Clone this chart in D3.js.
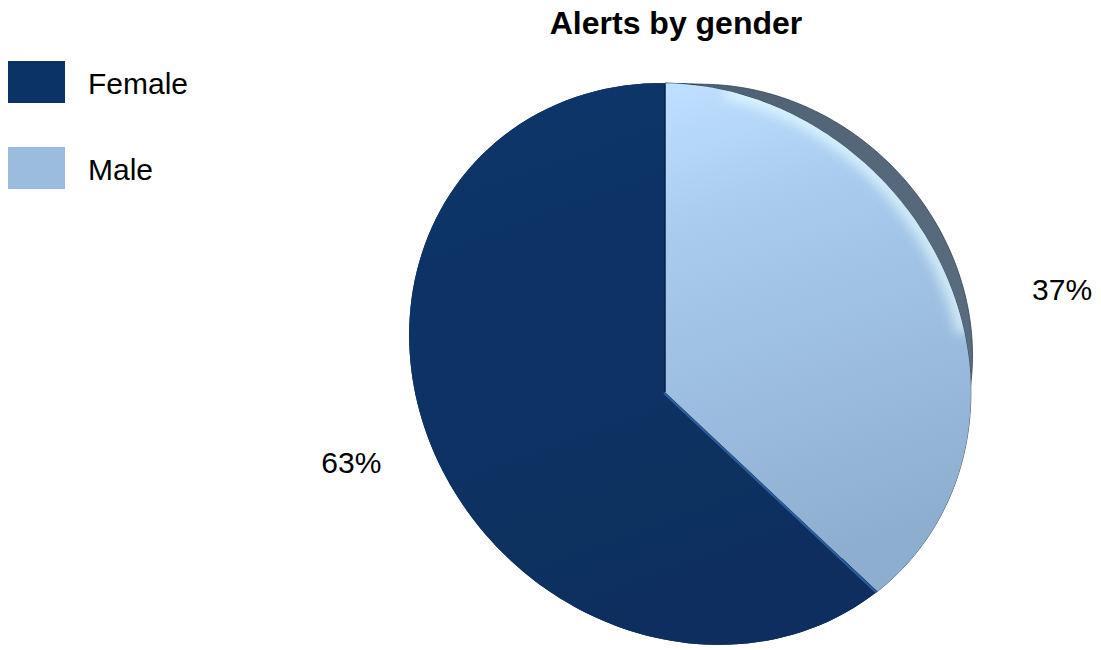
<!DOCTYPE html>
<html>
<head>
<meta charset="utf-8">
<script src="https://cdn.jsdelivr.net/npm/d3@7"></script>
<style>
  body { margin: 0; background: #fff; }
  svg { display: block; font-family: "Liberation Sans", Arial, sans-serif; }
</style>
</head>
<body>
<svg id="chart" width="1101" height="650"></svg>
<script>
const title = 'Alerts by gender'
const categories = ['Female', 'Male']
const values = [63, 37]
const percentLabels = ['63%', '37%']

const wallColors = ['#082650', '#56697b']
const legendColors = ['#0b3365', '#9bbcdc']

const svg = d3.select('#chart')
const defs = svg.append('defs')

// top face of the tilted pie: a rotated ellipse, apex off-centre for perspective
const face = { cx: 690, cy: 364, a: 295, b: 266, rot: Math.PI / 4 }
const apex = [665, 392]
// side wall = rim pulled toward a vanishing point
const vanish = [984, 92]
const depth = 0.125

// where a ray from the apex at `angle` (clockwise from 12 o'clock) hits the rim
const rim = (angle) => {
  const dx = Math.sin(angle), dy = -Math.cos(angle)
  const c = Math.cos(face.rot), s = Math.sin(face.rot)
  const px = apex[0] - face.cx, py = apex[1] - face.cy
  const ox = (px * c + py * s) / face.a, oy = (-px * s + py * c) / face.b
  const vx = (dx * c + dy * s) / face.a, vy = (-dx * s + dy * c) / face.b
  const A = vx * vx + vy * vy, B = 2 * (ox * vx + oy * vy), C = ox * ox + oy * oy - 1
  const t = (-B + Math.sqrt(B * B - 4 * A * C)) / (2 * A)
  return [apex[0] + dx * t, apex[1] + dy * t]
}
const sink = (p) => [p[0] + (vanish[0] - p[0]) * depth, p[1] + (vanish[1] - p[1]) * depth]

const arcPoints = (a0, a1) => d3.range(0, 121).map(i => rim(a0 + (a1 - a0) * i / 120))

const line = d3.line()

const pie = d3.pie().sort(null).startAngle(0).endAngle(2 * Math.PI)
// Male goes clockwise from 12 o'clock, Female fills the rest
const order = [1, 0]
const slices = pie(order.map(i => values[i])).map((d, k) => Object.assign({}, d, { idx: order[k] }))

// gradients
const gF = defs.append('linearGradient').attr('id', 'gFemale')
    .attr('x1', 0).attr('y1', 0).attr('x2', 0.3).attr('y2', 1)
gF.append('stop').attr('offset', '0%').attr('stop-color', '#16407a')
gF.append('stop').attr('offset', '15%').attr('stop-color', '#0c3468')
gF.append('stop').attr('offset', '100%').attr('stop-color', '#0a2f5f')

const gM = defs.append('linearGradient').attr('id', 'gMale')
    .attr('x1', 0).attr('y1', 0).attr('x2', 0.2).attr('y2', 1)
gM.append('stop').attr('offset', '0%').attr('stop-color', '#bfe0ff')
gM.append('stop').attr('offset', '30%').attr('stop-color', '#a8cbee')
gM.append('stop').attr('offset', '100%').attr('stop-color', '#8eaecf')

const gW = defs.append('linearGradient').attr('id', 'gWall')
    .attr('x1', 0).attr('y1', 0).attr('x2', 1).attr('y2', 1)
gW.append('stop').attr('offset', '0%').attr('stop-color', '#4e6174')
gW.append('stop').attr('offset', '100%').attr('stop-color', '#5d7083')

defs.append('filter').attr('id', 'soft')
    .attr('x', '-20%').attr('y', '-20%').attr('width', '140%').attr('height', '140%')
  .append('feGaussianBlur').attr('stdDeviation', 6)
defs.append('filter').attr('id', 'edge')
  .append('feGaussianBlur').attr('stdDeviation', 0.6)

const fills = ['url(#gFemale)', 'url(#gMale)']
const walls = [wallColors[0], 'url(#gWall)']

const g = svg.append('g')

// side walls
g.selectAll('path.wall').data(slices).join('path')
    .attr('class', 'wall')
    .attr('d', d => {
      const top = arcPoints(d.startAngle, d.endAngle)
      const bottom = top.map(sink).reverse()
      return line(top.concat(bottom)) + 'Z'
    })
    .attr('fill', d => walls[d.idx])
    .attr('stroke', d => d.idx === 1 ? '#34414f' : 'none')
    .attr('stroke-width', 0.8)
    .attr('filter', 'url(#edge)')

// top faces
const facePath = d => line([apex].concat(arcPoints(d.startAngle, d.endAngle))) + 'Z'
g.selectAll('path.face').data(slices).join('path')
    .attr('class', 'face')
    .attr('d', facePath)
    .attr('fill', d => fills[d.idx])
    .attr('filter', 'url(#edge)')

// rim highlight on the light slice
const male = slices.find(d => d.idx === 1)
defs.append('clipPath').attr('id', 'maleClip')
  .append('path').attr('d', facePath(male))
g.append('path')
    .attr('d', line(arcPoints(male.startAngle + 0.2, male.endAngle - 0.95)))
    .attr('fill', 'none')
    .attr('stroke', '#e8fdff')
    .attr('stroke-width', 16)
    .attr('stroke-opacity', 0.7)
    .attr('filter', 'url(#soft)')
    .attr('clip-path', 'url(#maleClip)')

// bevel lines along the split
g.append('path')
    .attr('d', line([apex, rim(male.endAngle)]))
    .attr('stroke', '#2d5f9f').attr('stroke-width', 2)
    .attr('transform', 'translate(-1,1)')
g.append('path')
    .attr('d', line([apex, rim(male.startAngle)]))
    .attr('stroke', '#07224a').attr('stroke-width', 1.5)

// percentage labels
const labelOffset = [[-99, -12], [118, 29]]
svg.selectAll('text.pct').data(slices).join('text')
    .attr('class', 'pct')
    .attr('x', d => rim((d.startAngle + d.endAngle) / 2)[0] + labelOffset[d.idx][0])
    .attr('y', d => rim((d.startAngle + d.endAngle) / 2)[1] + labelOffset[d.idx][1])
    .attr('text-anchor', 'middle')
    .attr('font-size', 30)
    .attr('fill', '#000')
    .text(d => percentLabels[d.idx])

// title
svg.append('text')
    .attr('x', 676).attr('y', 34)
    .attr('text-anchor', 'middle')
    .attr('font-size', 32).attr('font-weight', 'bold')
    .text(title)

// legend
const legend = svg.append('g')
const ly = d3.scalePoint().domain(categories).range([61, 147])
legend.selectAll('rect').data(categories).join('rect')
    .attr('x', 8).attr('y', d => ly(d))
    .attr('width', 57).attr('height', 42)
    .attr('fill', (d, i) => legendColors[i])
legend.selectAll('text').data(categories).join('text')
    .attr('x', 88).attr('y', d => ly(d) + 33)
    .attr('font-size', 30)
    .text(d => d)
</script>
</body>
</html>
